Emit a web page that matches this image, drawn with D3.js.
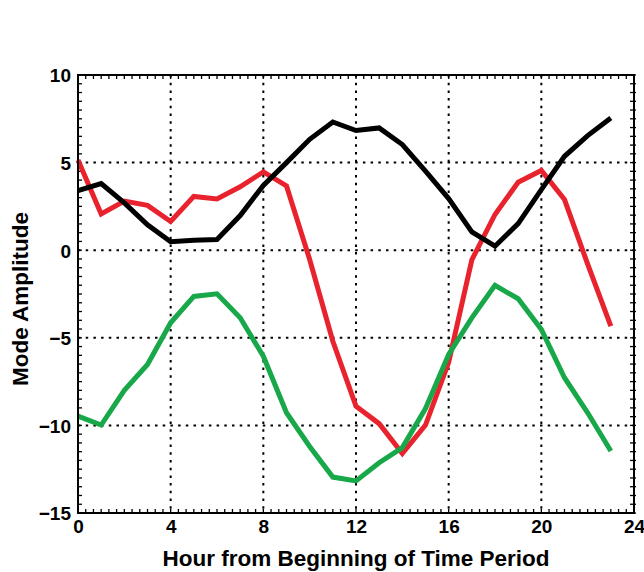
<!DOCTYPE html>
<html>
<head>
<meta charset="utf-8">
<script src="https://cdn.jsdelivr.net/npm/d3@7"></script>
<style>
  body { margin: 0; background: #fff; }
  svg { display: block; }
  text { font-family: "Liberation Sans", Arial, Helvetica, sans-serif; font-weight: bold; fill: #000; }
</style>
</head>
<body>
<svg width="644" height="572"></svg>
<script>
// hours 0..23
let hours = d3.range(24);

let blackSeries = [3.4, 3.8, 2.7, 1.45, 0.48, 0.57, 0.61, 1.98, 3.7, 5.0, 6.33, 7.32,
  6.83, 6.98, 6.03, 4.51, 2.95, 1.05, 0.23, 1.52, 3.46, 5.36, 6.54, 7.55];
let redSeries = [5.15, 2.07, 2.8, 2.56, 1.64, 3.07, 2.93, 3.62, 4.47, 3.67, -0.53, -5.2,
  -8.9, -9.9, -11.6, -9.98, -6.4, -0.55, 2.04, 3.88, 4.55, 2.89, -0.8, -4.33];
let greenSeries = [-9.47, -9.98, -8.0, -6.52, -4.14, -2.64, -2.49, -3.86, -6.05, -9.28, -11.2, -12.95,
  -13.17, -12.13, -11.27, -9.04, -5.95, -3.86, -2.01, -2.77, -4.52, -7.28, -9.28, -11.46];

let xTicks = [0, 4, 8, 12, 16, 20, 24];
let yTicks = [-15, -10, -5, 0, 5, 10];

let svg = d3.select("svg");

let plotL = 78, plotR = 634, plotT = 75, plotB = 513;

let x = d3.scaleLinear().domain([0, 24]).range([plotL, plotR]);
let y = d3.scaleLinear().domain([-15, 10]).range([plotB, plotT]);

// dotted grid
let grid = svg.append("g")
  .attr("stroke", "#000")
  .attr("stroke-width", 2)
  .attr("stroke-dasharray", "2.5,5.2");

grid.selectAll(".vgrid")
  .data(xTicks.slice(1, -1))
  .enter().append("line")
  .attr("x1", d => x(d)).attr("x2", d => x(d))
  .attr("y1", plotT).attr("y2", plotB);

grid.selectAll(".hgrid")
  .data(yTicks.slice(1, -1))
  .enter().append("line")
  .attr("y1", d => y(d)).attr("y2", d => y(d))
  .attr("x1", plotL).attr("x2", plotR);

// minor ticks, pointing in, on all four sides
let minorX = d3.range(0, 24 * 3 + 1).map(i => i / 3);
let minorY = d3.range(0, 51).map(i => -15 + i * 0.5);

let tickG = svg.append("g").attr("stroke", "#000").attr("stroke-width", 1.3);

tickG.selectAll(".tb").data(minorX).enter().append("line")
  .attr("x1", d => x(d)).attr("x2", d => x(d))
  .attr("y1", plotB).attr("y2", plotB - 4);
tickG.selectAll(".tt").data(minorX).enter().append("line")
  .attr("x1", d => x(d)).attr("x2", d => x(d))
  .attr("y1", plotT).attr("y2", plotT + 4);
tickG.selectAll(".tl").data(minorY).enter().append("line")
  .attr("y1", d => y(d)).attr("y2", d => y(d))
  .attr("x1", plotL).attr("x2", plotL + 4);
tickG.selectAll(".tr").data(minorY).enter().append("line")
  .attr("y1", d => y(d)).attr("y2", d => y(d))
  .attr("x1", plotR - 4).attr("x2", plotR + 2);

// series
let line = d3.line()
  .x((d, i) => x(hours[i]))
  .y(d => y(d));

[[redSeries, "#e8232d"], [greenSeries, "#18a84a"], [blackSeries, "#000"]].forEach(s => {
  svg.append("path")
    .datum(s[0])
    .attr("d", line)
    .attr("fill", "none")
    .attr("stroke", s[1])
    .attr("stroke-width", 5)
    .attr("stroke-linejoin", "miter");
});

// frame
svg.append("rect")
  .attr("x", plotL).attr("y", plotT)
  .attr("width", plotR - plotL).attr("height", plotB - plotT)
  .attr("fill", "none")
  .attr("stroke", "#000")
  .attr("stroke-width", 2);

// tick labels
let xAxis = d3.axisBottom(x).tickValues(xTicks).tickSize(0).tickPadding(7).tickFormat(d3.format("d"));
let gx = svg.append("g").attr("transform", "translate(0," + plotB + ")").call(xAxis);
gx.select(".domain").remove();
gx.selectAll("text").style("font-size", "19px").attr("dy", "0.71em");

let yAxis = d3.axisLeft(y).tickValues(yTicks).tickSize(0).tickPadding(7).tickFormat(d3.format("d"));
let gy = svg.append("g").attr("transform", "translate(" + plotL + ",0)").call(yAxis);
gy.select(".domain").remove();
gy.selectAll("text").style("font-size", "19px").attr("dy", "0.36em");

// axis titles
svg.append("text")
  .attr("x", 356)
  .attr("y", 566)
  .attr("text-anchor", "middle")
  .style("font-size", "22.5px")
  .text("Hour from Beginning of Time Period");

svg.append("text")
  .attr("transform", "translate(28,299) rotate(-90)")
  .attr("text-anchor", "middle")
  .style("font-size", "22.5px")
  .text("Mode Amplitude");
</script>
</body>
</html>
